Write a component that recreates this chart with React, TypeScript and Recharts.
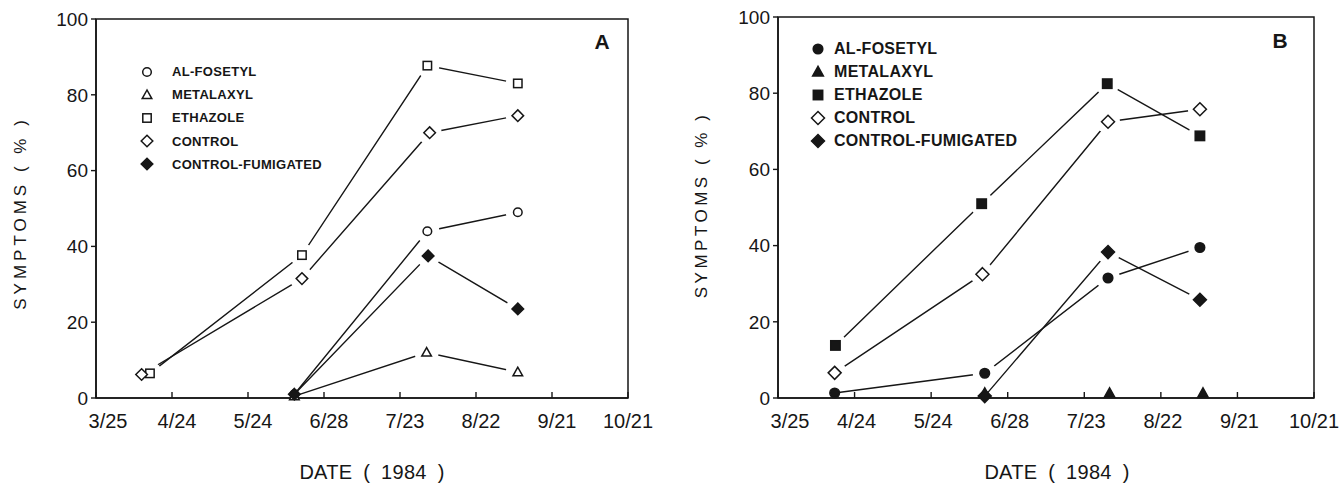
import React from "react";
import { LineChart, Line, XAxis, YAxis, ReferenceArea, Legend } from "recharts";

const dateTicks = ["3/25", "4/24", "5/24", "6/28", "7/23", "8/22", "9/21", "10/21"];
const symptomTicks = [0, 20, 40, 60, 80, 100];
const seriesNames = ["AL-FOSETYL", "METALAXYL", "ETHAZOLE", "CONTROL", "CONTROL-FUMIGATED"];

// sampling dates are given as positions along the date axis (0 = 3/25, 1 = 4/24, ...)
// panel A
const aFosetylX = [2.61, 4.36, 5.55];
const aFosetylY = [1, 44, 49];
const aMetalaxylX = [2.61, 4.35, 5.55];
const aMetalaxylY = [0.5, 12, 6.8];
const aEthazoleX = [0.71, 2.71, 4.36, 5.55];
const aEthazoleY = [6.5, 37.7, 87.7, 83];
const aControlX = [0.6, 2.71, 4.39, 5.55];
const aControlY = [6.2, 31.5, 70, 74.5];
const aFumigatedX = [2.61, 4.37, 5.55];
const aFumigatedY = [1, 37.5, 23.5];

// panel B
const bFosetylX = [0.74, 2.7, 4.31, 5.51];
const bFosetylY = [1.3, 6.5, 31.5, 39.5];
const bMetalaxylX = [2.7, 4.33, 5.55];
const bMetalaxylY = [1.2, 1.2, 1.2];
const bEthazoleX = [0.75, 2.66, 4.3, 5.51];
const bEthazoleY = [13.8, 51, 82.5, 68.8];
const bControlX = [0.74, 2.67, 4.31, 5.51];
const bControlY = [6.6, 32.5, 72.5, 75.8];
const bFumigatedX = [2.7, 4.31, 5.51];
const bFumigatedY = [0.5, 38.3, 25.8];

const INK = "#161616";
const FONT = "'Liberation Sans', Arial, sans-serif";
const tickIdx = dateTicks.map((_, i) => i);
const PLOT_BOTTOM = 398;

const toPoints = (xs: number[], ys: number[]) => xs.map((x, i) => ({ x, y: ys[i] }));

type Shape = "circle" | "triangle" | "square" | "diamond";

function Marker({ shape, filled, cx, cy, big }: { shape: Shape; filled: boolean; cx: number; cy: number; big?: boolean }) {
  const fill = filled ? INK : "#fff";
  const s = big ? 1.12 : 1;
  const common = { fill, stroke: INK, strokeWidth: 1.5 };
  if (shape === "circle") return <circle cx={cx} cy={cy} r={4.3 * s} {...common} />;
  if (shape === "square") {
    const h = 4.2 * s;
    return <rect x={cx - h} y={cy - h} width={2 * h} height={2 * h} {...common} />;
  }
  if (shape === "triangle") {
    const w = 4.8 * s;
    return <polygon points={`${cx},${cy - 5 * s} ${cx - w},${cy + 3.6 * s} ${cx + w},${cy + 3.6 * s}`} {...common} />;
  }
  const d = 5.8 * s;
  return <polygon points={`${cx},${cy - d} ${cx + d},${cy} ${cx},${cy + d} ${cx - d},${cy}`} {...common} />;
}

type Series = { name: string; shape: Shape; filled: boolean; xs: number[]; ys: number[]; line: boolean };

const panelA: Series[] = [
  { name: seriesNames[0], shape: "circle", filled: false, xs: aFosetylX, ys: aFosetylY, line: true },
  { name: seriesNames[1], shape: "triangle", filled: false, xs: aMetalaxylX, ys: aMetalaxylY, line: true },
  { name: seriesNames[2], shape: "square", filled: false, xs: aEthazoleX, ys: aEthazoleY, line: true },
  { name: seriesNames[3], shape: "diamond", filled: false, xs: aControlX, ys: aControlY, line: true },
  { name: seriesNames[4], shape: "diamond", filled: true, xs: aFumigatedX, ys: aFumigatedY, line: true },
];

const panelB: Series[] = [
  { name: seriesNames[0], shape: "circle", filled: true, xs: bFosetylX, ys: bFosetylY, line: true },
  { name: seriesNames[1], shape: "triangle", filled: true, xs: bMetalaxylX, ys: bMetalaxylY, line: false },
  { name: seriesNames[2], shape: "square", filled: true, xs: bEthazoleX, ys: bEthazoleY, line: true },
  { name: seriesNames[3], shape: "diamond", filled: false, xs: bControlX, ys: bControlY, line: true },
  { name: seriesNames[4], shape: "diamond", filled: true, xs: bFumigatedX, ys: bFumigatedY, line: true },
];

type PanelProps = {
  series: Series[];
  left: number;
  width: number;
  marginLeft: number;
  marginRight: number;
  marginTop: number;
  letter: string;
  letterX: number;
  letterY: number;
  titleX: number;
  titleY: number;
  titleSpacing: number;
  dateX: number;
  legendLeft: number;
  legendTop: number;
  legendFont: number;
  legendGap: number;
  big: boolean;
  tickShift: number;
};

const pointOf = (l: any) => {
  const vb = l.viewBox || {};
  return { x: Number(l.x ?? vb.x), y: Number(l.y ?? vb.y) };
};

// white ring round each raised point, so the joining lines stop short of it
const haloLabel = (l: any) => {
  const { x, y } = pointOf(l);
  if (y > PLOT_BOTTOM - 12) return <g />;
  return <circle cx={x} cy={y} r={12} fill="#ffffff" stroke="none" />;
};

const markerLabel = (s: Series, big: boolean) => (l: any) => {
  const { x, y } = pointOf(l);
  return <Marker shape={s.shape} filled={s.filled} cx={x} cy={y} big={big} />;
};

function Panel(p: PanelProps) {
  const renderTick = (t: any) => {
    const i = Math.round(t.payload.value);
    const shift = i === 0 ? 12 : i === 7 ? 0 : p.tickShift;
    return (
      <text x={t.x + shift} y={t.y} dy={14} textAnchor="middle" fontSize={20} fill={INK} fontFamily={FONT}>
        {dateTicks[i]}
      </text>
    );
  };

  return (
    <div style={{ position: "absolute", left: p.left, top: 0 }}>
      <LineChart
        width={p.width}
        height={484}
        margin={{ top: p.marginTop, right: p.marginRight, bottom: 56, left: p.marginLeft }}
      >
        <XAxis
          type="number"
          dataKey="x"
          domain={[0, 7]}
          ticks={tickIdx}
          interval={0}
          height={30}
          axisLine={{ stroke: INK, strokeWidth: 1.6 }}
          tickLine={{ stroke: INK, strokeWidth: 1.4 }}
          tickSize={-6}
          tickMargin={22}
          tick={renderTick}
          label={() => (
            <text x={p.dateX} y={479} textAnchor="middle" fontSize={20} fill={INK} fontFamily={FONT} style={{ wordSpacing: 5, letterSpacing: 0.3 }}>
              DATE ( 1984 )
            </text>
          )}
        />
        <YAxis
          type="number"
          domain={[0, 100]}
          ticks={symptomTicks}
          interval={0}
          width={60}
          axisLine={{ stroke: INK, strokeWidth: 1.6 }}
          tickLine={{ stroke: INK, strokeWidth: 1.4 }}
          tickSize={5}
          tickMargin={3}
          tick={{ fontSize: 19, fill: INK, fontFamily: FONT }}
          label={() => (
            <text
              transform={`translate(${p.titleX},${p.titleY}) rotate(-90)`}
              textAnchor="middle"
              dominantBaseline="central"
              fontSize={17}
              fill={INK}
              fontFamily={FONT}
              style={{ letterSpacing: p.titleSpacing }}
            >
              SYMPTOMS ( % )
            </text>
          )}
        />
        <ReferenceArea
          x1={0}
          x2={7}
          y1={0}
          y2={100}
          fill="none"
          stroke={INK}
          strokeWidth={1.5}
          ifOverflow="visible"
          label={() => (
            <text x={p.letterX} y={p.letterY} textAnchor="middle" fontSize={21} fontWeight="bold" fill={INK} fontFamily={FONT}>
              {p.letter}
            </text>
          )}
        />
        {p.series
          .filter((s) => s.line)
          .map((s) => (
            <Line
              key={`line-${s.name}`}
              data={toPoints(s.xs, s.ys)}
              dataKey="y"
              stroke={INK}
              strokeWidth={1.4}
              dot={false}
              activeDot={false}
              legendType="none"
              isAnimationActive={false}
            />
          ))}
        {p.series.map((s) => (
          <Line
            key={`halo-${s.name}`}
            data={toPoints(s.xs, s.ys)}
            dataKey="y"
            stroke="none"
            dot={false}
            activeDot={false}
            legendType="none"
            isAnimationActive={false}
            label={haloLabel}
          />
        ))}
        {p.series.map((s) => (
          <Line
            key={`mark-${s.name}`}
            data={toPoints(s.xs, s.ys)}
            dataKey="y"
            stroke="none"
            dot={false}
            activeDot={false}
            legendType="none"
            isAnimationActive={false}
            label={markerLabel(s, p.big)}
          />
        ))}
        <Legend
          layout="vertical"
          align="center"
          verticalAlign="middle"
          wrapperStyle={{ left: p.legendLeft, top: p.legendTop, width: 260 }}
          content={() => (
            <div>
              {p.series.map((s) => (
                <div key={s.name} style={{ display: "flex", alignItems: "center", height: 23.2 }}>
                  <svg width={16} height={16} style={{ display: "block" }}>
                    <Marker shape={s.shape} filled={s.filled} cx={8} cy={8} big={p.big} />
                  </svg>
                  <span
                    style={{
                      marginLeft: p.legendGap,
                      fontFamily: FONT,
                      fontWeight: "bold",
                      fontSize: p.legendFont,
                      color: INK,
                      letterSpacing: 0.3,
                      whiteSpace: "nowrap",
                    }}
                  >
                    {s.name}
                  </span>
                </div>
              ))}
            </div>
          )}
        />
      </LineChart>
    </div>
  );
}

export default function App() {
  return (
    <div style={{ position: "absolute", left: 0, top: 0, width: 1339, height: 484, background: "#fff", overflow: "hidden" }}>
      <Panel
        series={panelA}
        left={0}
        width={660}
        marginLeft={36}
        marginRight={32}
        marginTop={19}
        letter="A"
        letterX={602}
        letterY={49}
        titleX={20}
        titleY={213}
        titleSpacing={4}
        dateX={372}
        legendLeft={139}
        legendTop={60}
        legendFont={13}
        legendGap={17}
        big={false}
        tickShift={5}
      />
      <Panel
        series={panelB}
        left={670}
        width={669}
        marginLeft={48}
        marginRight={25}
        marginTop={17}
        letter="B"
        letterX={610}
        letterY={48}
        titleX={31}
        titleY={205}
        titleSpacing={3.5}
        dateX={387}
        legendLeft={140}
        legendTop={37}
        legendFont={16}
        legendGap={8}
        big={true}
        tickShift={2}
      />
    </div>
  );
}
